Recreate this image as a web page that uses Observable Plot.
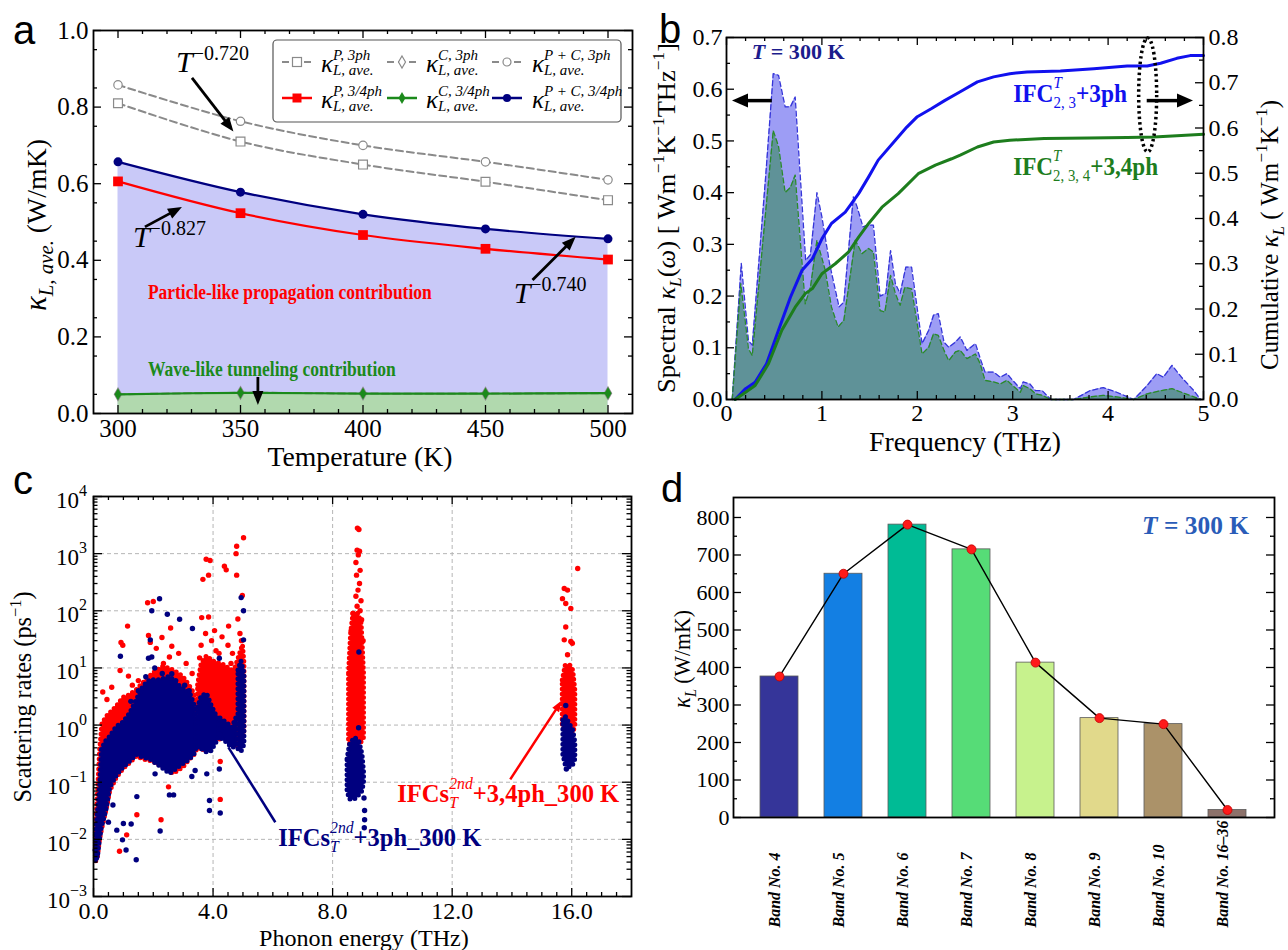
<!DOCTYPE html>
<html><head><meta charset="utf-8">
<script src="https://cdn.jsdelivr.net/npm/d3@7"></script>
<script src="https://cdn.jsdelivr.net/npm/@observablehq/plot@0.6"></script>
<style>
body{margin:0;background:#fff;}
#fig{position:relative;width:1288px;height:950px;overflow:hidden;background:#fff;}
#fig > svg{position:absolute;}
</style></head><body><div id="fig"></div>
<script>
// ================= DATA =================
// Panel a
const tempK = [300, 350, 400, 450, 500];
const kP3   = [0.810, 0.710, 0.650, 0.605, 0.557];
const kC3   = [0.050, 0.054, 0.052, 0.052, 0.053];
const kPC3  = [0.858, 0.763, 0.700, 0.657, 0.610];
const kP34  = [0.606, 0.523, 0.466, 0.430, 0.402];
const kC34  = [0.050, 0.054, 0.052, 0.052, 0.053];
const kPC34 = [0.657, 0.578, 0.520, 0.482, 0.456];
const legendLabelsA = ["P, 3ph", "C, 3ph", "P + C, 3ph", "P, 3/4ph", "C, 3/4ph", "P + C, 3/4ph"];
const expLabelsA = [{x: 323.9, y: 0.890, e: "−0.720"}, {x: 306.3, y: 0.433, e: "−0.827"}, {x: 461.7, y: 0.287, e: "−0.740"}];
const arrowsA = [
  {x1: 330.4, y1: 0.875, x2: 347.3, y2: 0.735},
  {x1: 311.2, y1: 0.486, x2: 326.3, y2: 0.538},
  {x1: 469.4, y1: 0.347, x2: 487.0, y2: 0.460},
  {x1: 357.3, y1: 0.094, x2: 357.3, y2: 0.021}
];
const ticksAX = [300, 350, 400, 450, 500];
const ticksAY = [0, 0.2, 0.4, 0.6, 0.8, 1.0];

// Panel b  [frequency THz, value]
const spec3ph = [[0.06,0],[0.155,0.263],[0.23,0.114],[0.27,0.105],[0.41,0.43],[0.49,0.63],[0.545,0.627],[0.615,0.566],[0.67,0.566],[0.72,0.585],[0.83,0.269],[0.88,0.28],[0.948,0.40],[1.0,0.353],[1.08,0.263],[1.18,0.179],[1.23,0.188],[1.33,0.392],[1.37,0.372],[1.43,0.334],[1.48,0.337],[1.54,0.337],[1.61,0.20],[1.67,0.205],[1.72,0.288],[1.77,0.224],[1.82,0.205],[1.88,0.256],[1.94,0.256],[2.05,0.108],[2.12,0.134],[2.17,0.163],[2.22,0.166],[2.28,0.111],[2.33,0.101],[2.40,0.111],[2.45,0.121],[2.52,0.095],[2.61,0.108],[2.66,0.079],[2.71,0.053],[2.80,0.053],[2.87,0.043],[2.94,0.050],[3.00,0.037],[3.08,0.021],[3.11,0.034],[3.18,0.030],[3.24,0.017],[3.31,0.017],[3.40,0],[3.64,0],[3.81,0.017],[3.95,0.023],[4.09,0.014],[4.27,0],[4.41,0.027],[4.51,0.050],[4.58,0.043],[4.67,0.066],[4.77,0.043],[4.90,0.017],[4.97,0]];
const spec34ph = [[0.06,0],[0.15,0.224],[0.23,0.098],[0.27,0.085],[0.49,0.52],[0.545,0.49],[0.615,0.40],[0.67,0.41],[0.72,0.434],[0.825,0.185],[0.88,0.217],[0.948,0.308],[1.035,0.25],[1.10,0.179],[1.17,0.14],[1.23,0.153],[1.35,0.308],[1.42,0.282],[1.49,0.292],[1.54,0.285],[1.61,0.172],[1.66,0.169],[1.72,0.24],[1.77,0.205],[1.82,0.182],[1.87,0.217],[1.94,0.214],[2.05,0.088],[2.12,0.101],[2.17,0.127],[2.22,0.124],[2.28,0.095],[2.33,0.075],[2.40,0.092],[2.45,0.095],[2.52,0.079],[2.61,0.088],[2.66,0.069],[2.71,0.037],[2.80,0.034],[2.87,0.030],[2.94,0.037],[3.00,0.027],[3.08,0.014],[3.11,0.027],[3.18,0.021],[3.24,0.011],[3.31,0.008],[3.40,0],[3.64,0],[3.81,0.005],[3.95,0.008],[4.09,0.005],[4.27,0],[4.41,0.011],[4.55,0.017],[4.67,0.021],[4.77,0.014],[4.97,0]];
const cum3ph = [[0.09,0],[0.2,0.024],[0.3,0.038],[0.42,0.079],[0.545,0.153],[0.67,0.226],[0.79,0.285],[0.9,0.311],[1.0,0.355],[1.1,0.389],[1.245,0.414],[1.385,0.455],[1.49,0.492],[1.59,0.529],[1.77,0.573],[1.89,0.602],[2.0,0.625],[2.15,0.643],[2.29,0.661],[2.45,0.68],[2.63,0.702],[2.8,0.713],[2.97,0.72],[3.15,0.724],[3.5,0.726],[3.85,0.731],[4.2,0.737],[4.41,0.737],[4.55,0.743],[4.72,0.754],[4.86,0.76],[5.0,0.76]];
const cum34ph = [[0.09,0],[0.2,0.016],[0.3,0.031],[0.44,0.079],[0.58,0.153],[0.72,0.204],[0.825,0.234],[0.9,0.245],[1.0,0.278],[1.14,0.3],[1.28,0.326],[1.385,0.359],[1.49,0.389],[1.63,0.425],[1.8,0.455],[2.01,0.499],[2.19,0.518],[2.36,0.532],[2.45,0.54],[2.63,0.558],[2.8,0.569],[2.97,0.573],[3.33,0.577],[3.8,0.578],[4.2,0.579],[4.48,0.58],[4.72,0.583],[5.0,0.586]];
const ticksBX = [0, 1, 2, 3, 4, 5];
const ticksBL = [0, 0.1, 0.2, 0.3, 0.4, 0.5, 0.6, 0.7];
const ticksBR = [0, 0.1, 0.2, 0.3, 0.4, 0.5, 0.6, 0.7, 0.8];

// Panel c  dense cores [segment, THz, low, high] and single points [THz, rate]
const redCore = [
 [1,0.08,0.004,0.015],[1,0.15,0.005,0.06],[1,0.22,0.01,0.35],[1,0.3,0.016,1.05],[1,0.45,0.035,1.4],[1,0.56,0.07,1.6],[1,0.78,0.12,2.1],[1,1.0,0.17,3.0],[1,1.2,0.21,3.3],[1,1.45,0.28,4.1],[1,1.67,0.25,5.4],[1,2.0,0.23,8],[1,2.34,0.18,10.5],[1,2.68,0.14,9],[1,3.0,0.18,7],[1,3.2,0.24,5],[1,3.38,0.3,3.5],[1,3.45,0.35,1.5],
 [2,3.5,0.45,5],[2,3.62,0.35,12],[2,3.8,0.4,16],[2,4.0,0.5,13],[2,4.2,0.55,12],[2,4.4,0.6,11],[2,4.6,0.55,9],[2,4.75,0.45,10],[2,4.88,0.4,16],[2,5.0,0.55,25],[2,5.05,0.8,12],
 [3,8.55,0.5,8],[3,8.62,0.42,40],[3,8.7,0.4,90],[3,8.85,0.45,90],[3,8.97,0.5,60],[3,9.05,0.6,8],
 [4,15.7,1.0,6],[4,15.8,0.7,11],[4,15.95,0.6,11],[4,16.05,0.7,9],[4,16.12,1.0,4]
];
const blueCore = [
 [1,0.08,0.004,0.012],[1,0.15,0.005,0.03],[1,0.22,0.01,0.08],[1,0.28,0.016,0.37],[1,0.45,0.035,0.55],[1,0.56,0.08,0.62],[1,0.78,0.13,0.93],[1,1.0,0.18,1.1],[1,1.23,0.23,1.6],[1,1.45,0.3,2.75],[1,1.67,0.27,4.7],[1,1.9,0.25,6.1],[1,2.23,0.19,6.1],[1,2.56,0.14,7],[1,2.9,0.19,4.7],[1,3.23,0.25,3.6],[1,3.4,0.32,2.1],[1,3.44,0.4,1.0],
 [2,3.5,0.4,2.0],[2,3.62,0.38,3.2],[2,3.8,0.33,3.5],[2,3.95,0.35,2.2],[2,4.1,0.48,1.5],[2,4.2,0.6,1.2],
 [3,4.25,0.6,1.3],[3,4.45,0.5,1.1],[3,4.65,0.4,0.9],[3,4.8,0.42,1.4],
 [4,4.85,0.38,9],[4,4.95,0.34,13],[4,5.05,0.45,8],
 [5,8.5,0.07,0.25],[5,8.58,0.05,0.45],[5,8.75,0.05,0.6],[5,8.9,0.06,0.5],[5,9.0,0.07,0.3],[5,9.05,0.1,0.15],
 [6,15.72,0.3,1.2],[6,15.8,0.2,1.4],[6,15.95,0.18,1.0],[6,16.05,0.2,0.8],[6,16.12,0.25,0.5]
];
const redPts = [
 [5.02,1900],[4.79,1350],[4.77,1000],[4.79,420],[4.38,600],[4.44,520],[3.77,800],[3.9,760],[3.66,355],[3.85,420],
 [4.98,185],[3.62,76],[3.85,78],[4.83,72],[4.52,54],[1.81,138],[2.0,145],[1.14,54],[0.98,25],[0.92,28],[0.89,9],[1.17,7.2],
 [0.61,4.6],[0.31,3.8],[0.45,2.8],[1.84,37],[2.29,34],[2.62,24],[2.54,15.5],[2.34,12],[2.58,50],[2.1,22],[1.9,28],[2.85,18],[3.1,12],[3.3,8],[1.5,6],[1.3,5],
 [2.26,0.022],[1.45,0.027],[0.87,0.0062],[1.11,0.012],[4.24,0.23],[4.24,0.05],[3.59,0.4],[2.51,0.083],[3.18,0.34],
 [3.6,25],[3.75,40],[3.95,30],[4.1,20],[4.3,35],[4.5,25],[4.65,18],[4.9,40],[4.95,30],[3.55,15],[4.2,18],[4.05,45],[4.6,12],
 [8.83,2800],[8.88,2650],[8.82,1150],[8.9,1100],[8.86,950],[8.78,700],[8.92,510],[8.8,420],[8.9,300],[8.85,230],[8.78,180],[8.95,150],[8.82,120],[8.92,100],[8.68,90],[8.97,70],[8.62,45],[9.02,30],
 [16.2,550],[15.75,245],[15.86,230],[15.69,163],[15.8,134],[15.97,110],[15.8,52],[15.75,31],[15.97,29],[16.02,27],[15.86,17]
];
const bluePts = [
 [2.21,162],[1.95,100],[2.47,87],[2.88,71],[3.31,49],[4.94,170],[5.02,100],[0.9,16],[1.9,31],[1.95,15.5],[1.84,14.8],[2.62,7.9],[4.21,14.8],[5.02,31],
 [1.5,4],[1.75,7],[2.05,10],[2.3,8],[2.75,6],[3.05,5],[3.2,4],[1.25,2.6],
 [0.78,0.0145],[0.97,0.0098],[1.09,0.0065],[1.43,0.0044],[1.0,0.019],[1.26,0.0186],[2.23,0.014],[1.45,0.056],[2.06,0.14],[2.54,0.06],[2.68,0.06],[3.29,0.126],[3.4,0.16],[3.79,0.14],[3.88,0.048],[3.88,0.032],[4.24,0.029],[4.21,0.17],[0.11,0.005],[0.06,0.0065],[0.5,0.02],[0.65,0.04],
 [8.88,19],[8.87,0.9],[9.05,0.053],[9.07,0.032],[9.07,0.022],[9.06,0.016],
 [15.8,2.2],[15.82,0.17]
];
const ticksCX = [0, 4, 8, 12, 16];
const ticksCYexp = [-3, -2, -1, 0, 1, 2, 3, 4];

// Panel d
const bands = ["Band No. 4", "Band No. 5", "Band No. 6", "Band No. 7", "Band No. 8", "Band No. 9", "Band No. 10", "Band No. 16–36"];
const bandK = [376, 650, 781, 715, 413, 265, 249, 20];
const bandColors = ["#353599", "#137fe3", "#00bb95", "#56dc77", "#c7f28d", "#e1d98b", "#ab9269", "#8d726b"];
const ticksDY = [0, 100, 200, 300, 400, 500, 600, 700, 800];

// ================= HELPERS =================
const SERIF = '"Liberation Serif", "Times New Roman", serif';
const SANS = '"Liberation Sans", Arial, sans-serif';
const TXT = {fontFamily: SERIF, fill: "black"};
const cv = document.createElement("canvas").getContext("2d");
function tw(t, fs, it, b) { cv.font = `${it ? "italic " : ""}${b ? "bold " : ""}${fs}px "Liberation Serif"`; return cv.measureText(t).width; }
function rich(g, X, Y, segs, o = {}) {
  const S = o.size || 20, bold = !!o.bold, fill = o.fill || "black";
  let cx = 0, prev = 0; const out = [];
  for (const s of segs) {
    const small = s.sup || s.sub;
    const fs = s.fs || (small ? Math.round(S * 0.66) : S);
    const b = s.b !== undefined ? !!s.b : bold;
    const w = tw(s.t, fs, !!s.it, b);
    const x0 = s.stack ? prev : cx;
    const dy = s.dy !== undefined ? s.dy : s.sup ? -0.42 * S : s.sub ? 0.25 * S : 0;
    out.push({t: s.t, x: x0, dy, fs, it: !!s.it, b, fill: s.fill || fill});
    prev = x0;
    cx = s.stack ? Math.max(cx, x0 + w) : x0 + w;
  }
  const off = o.anchor === "middle" ? -cx / 2 : o.anchor === "end" ? -cx : 0;
  const sx = o.width ? o.width / cx : 1;
  const gg = g.append("g").attr("text-anchor", "start").attr("transform", `translate(${X},${Y})${o.rotate ? ` rotate(${o.rotate})` : ""}${sx !== 1 ? ` scale(${sx},1)` : ""}`);
  for (const s of out) gg.append("text").attr("x", s.x + off).attr("y", s.dy).attr("text-anchor", "start")
    .attr("font-family", o.family || SERIF).attr("font-size", s.fs)
    .attr("font-style", s.it ? "italic" : "normal").attr("font-weight", s.b ? "bold" : "normal")
    .attr("fill", s.fill).style("white-space", "pre").text(s.t);
  return gg;
}
function arrow(g, x1, y1, x2, y2, o = {}) {
  const color = o.color || "black", w = o.width || 2.5, hl = o.hl ?? 13, hw = o.hw ?? 10;
  const a = Math.atan2(y2 - y1, x2 - x1), c = Math.cos(a), s = Math.sin(a);
  const bx = x2 - hl * c, by = y2 - hl * s;
  g.append("line").attr("x1", x1).attr("y1", y1).attr("x2", hl ? bx + c : x2).attr("y2", hl ? by + s : y2)
    .attr("stroke", color).attr("stroke-width", w);
  if (hl) g.append("path").attr("d", `M${x2},${y2}L${bx - hw / 2 * s},${by + hw / 2 * c}L${bx + hw / 2 * s},${by - hw / 2 * c}Z`).attr("fill", color);
}
const layer = draw => (index, scales, values, dims) => { const g = d3.create("svg:g"); draw(g, scales, dims); return g.node(); };
const TK = {stroke: "black", strokeWidth: 1.3};
const tB = (v, len, fh) => Plot.ruleX(v, {x: d => d, insetTop: fh - len, ...TK});
const tT = (v, len, fh) => Plot.ruleX(v, {x: d => d, insetBottom: fh - len, ...TK});
const tL = (v, len, fw, f = d => d) => Plot.ruleY(v, {y: f, insetRight: fw - len, ...TK});
const tR = (v, len, fw, f = d => d) => Plot.ruleY(v, {y: f, insetLeft: fw - len, ...TK});
const STYLE = {background: "transparent", fontFamily: SERIF, overflow: "visible", color: "black"};
const fig = document.getElementById("fig");
function place(el, left, top) { el.style.position = "absolute"; el.style.left = left + "px"; el.style.top = top + "px"; el.style.maxWidth = "none"; fig.appendChild(el); }

// ================= PANEL A =================
{
  const rows = tempK.map((t, i) => ({t, p3: kP3[i], c3: kC3[i], pc3: kPC3[i], p34: kP34[i], c34: kC34[i], pc34: kPC34[i]}));
  const fw = 539, fh = 383, cr = "catmull-rom";
  const gray = {stroke: "#8a8a8a", strokeWidth: 2, strokeDasharray: "7,4", curve: cr};
  const xMin = d3.range(300, 510, 10).filter(v => v % 50);
  const yMin = d3.range(0.05, 1, 0.1);
  const el = Plot.plot({
    width: 640, height: 475, marginTop: 30, marginRight: 8, marginBottom: 62, marginLeft: 93,
    style: STYLE, x: {domain: [290, 510], axis: null}, y: {domain: [0, 1], axis: null},
    marks: [
      Plot.areaY(rows, {x: "t", y1: 0, y2: "pc34", fill: "#c9c9f8", curve: cr}),
      Plot.areaY(rows, {x: "t", y1: 0, y2: "c34", fill: "#b1d9ae", curve: cr}),
      Plot.line(rows, {x: "t", y: "c3", ...gray}),
      Plot.dot(rows, {x: "t", y: "c3", symbol: "diamond", r: 3.6, stroke: "#8a8a8a", fill: "white"}),
      Plot.line(rows, {x: "t", y: "p3", ...gray}),
      Plot.line(rows, {x: "t", y: "pc3", ...gray}),
      Plot.dot(rows, {x: "t", y: "p3", symbol: "square", r: 5, stroke: "#8a8a8a", fill: "white", strokeWidth: 1.2}),
      Plot.dot(rows, {x: "t", y: "pc3", r: 4.2, stroke: "#8a8a8a", fill: "white", strokeWidth: 1.2}),
      Plot.line(rows, {x: "t", y: "p34", stroke: "#ff0000", strokeWidth: 2.2, curve: cr}),
      Plot.dot(rows, {x: "t", y: "p34", symbol: "square", r: 5.5, fill: "#ff0000"}),
      Plot.line(rows, {x: "t", y: "pc34", stroke: "#00007f", strokeWidth: 2.2, curve: cr}),
      Plot.dot(rows, {x: "t", y: "pc34", r: 4.5, fill: "#00007f"}),
      Plot.line(rows, {x: "t", y: "c34", stroke: "#1b8a1b", strokeWidth: 2.2, curve: cr}),
      Plot.dot(rows, {x: "t", y: "c34", symbol: "diamond", r: 3.6, fill: "#1b8a1b"}),
      layer((g, s) => {
        for (const e of expLabelsA) rich(g, s.x(e.x), s.y(e.y), [{t: "T", it: 1}, {t: e.e, fs: 20, dy: -12}], {size: 30});
        for (const a of arrowsA) arrow(g, s.x(a.x1), s.y(a.y1), s.x(a.x2), s.y(a.y2), {width: 2.8, hl: 14, hw: 11});
        rich(g, s.x(312.4), s.y(0.298), [{t: "Particle-like propagation contribution"}], {size: 20, bold: true, fill: "#ff0000", width: 284});
        rich(g, s.x(312.4), s.y(0.0966), [{t: "Wave-like tunneling contribution"}], {size: 20, bold: true, fill: "#1b8a1b", width: 248});
        // legend
        g.append("rect").attr("x", 273).attr("y", 40).attr("width", 348).attr("height", 82).attr("rx", 4)
          .attr("fill", "white").attr("stroke", "#555").attr("stroke-width", 1.2);
        const sty = [
          {stroke: "#8a8a8a", dash: "7,4", sym: "square", fill: "white"},
          {stroke: "#8a8a8a", dash: "7,4", sym: "diamond", fill: "white"},
          {stroke: "#8a8a8a", dash: "7,4", sym: "circle", fill: "white"},
          {stroke: "#ff0000", dash: null, sym: "square", fill: "#ff0000"},
          {stroke: "#1b8a1b", dash: null, sym: "diamond", fill: "#1b8a1b"},
          {stroke: "#00007f", dash: null, sym: "circle", fill: "#00007f"}
        ];
        legendLabelsA.forEach((lab, i) => {
          const col = i % 3, row = Math.floor(i / 3), st = sty[i];
          const lx = [282, 387, 492][col], ly = [62, 98][row];
          const ln = g.append("line").attr("x1", lx).attr("x2", lx + 30).attr("y1", ly).attr("y2", ly)
            .attr("stroke", st.stroke).attr("stroke-width", st.dash ? 2 : 2.5);
          if (st.dash) ln.attr("stroke-dasharray", st.dash);
          const mx = lx + 15, sw = st.fill === "white" ? 1.2 : 0;
          if (st.sym === "square") g.append("rect").attr("x", mx - 4.5).attr("y", ly - 4.5).attr("width", 9).attr("height", 9).attr("fill", st.fill).attr("stroke", st.stroke).attr("stroke-width", sw);
          if (st.sym === "circle") g.append("circle").attr("cx", mx).attr("cy", ly).attr("r", 4).attr("fill", st.fill).attr("stroke", st.stroke).attr("stroke-width", sw);
          if (st.sym === "diamond") g.append("path").attr("d", `M${mx},${ly - 6}L${mx + 3.5},${ly}L${mx},${ly + 6}L${mx - 3.5},${ly}Z`).attr("fill", st.fill).attr("stroke", st.stroke).attr("stroke-width", sw);
          const bx = [321, 426, 532][col], by = [72, 108][row];
          rich(g, bx, by, [{t: "κ", it: 1}, {t: lab, it: 1, fs: 15, dy: -12}, {t: "L, ave.", it: 1, fs: 15, dy: 3, stack: 1}], {size: 25});
        });
        // axis titles & letter
        rich(g, 46, 225, [{t: "κ", it: 1, fs: 31}, {t: "L, ave.", it: 1, fs: 21, dy: 7}, {t: " (W/mK)", fs: 28}], {rotate: -90, anchor: "middle", width: 172});
        rich(g, 360, 466, [{t: "Temperature (K)"}], {size: 27, anchor: "middle", width: 185});
        rich(g, 13, 44, [{t: "a"}], {size: 40, family: SANS});
      }),
      Plot.text(ticksAX, {x: d => d, text: d => String(d), frameAnchor: "bottom", dy: 6, lineAnchor: "top", fontSize: 25, ...TXT}),
      Plot.text(ticksAY, {y: d => d, text: d => d.toFixed(1), frameAnchor: "left", dx: -5, textAnchor: "end", fontSize: 25, ...TXT}),
      tB(ticksAX, 8, fh), tT(ticksAX, 8, fh), tB(xMin, 4, fh), tT(xMin, 4, fh),
      tL(ticksAY, 8, fw), tR(ticksAY, 8, fw), tL(yMin, 4, fw), tR(yMin, 4, fw),
      Plot.frame({stroke: "black", strokeWidth: 1.8})
    ]
  });
  place(el, 0, 0);
}

// ================= PANEL B =================
{
  const RS = 0.7 / 0.8, fw = 477, fh = 362;
  const xMin = d3.range(0.2, 5, 0.2).filter(v => Math.abs(v - Math.round(v)) > 0.01);
  const yMinL = d3.range(0.05, 0.7, 0.1);
  const yMinR = d3.range(0.05, 0.8, 0.1);
  const el = Plot.plot({
    width: 648, height: 460, marginTop: 37, marginRight: 85, marginBottom: 61, marginLeft: 86,
    style: STYLE, x: {domain: [0, 5], axis: null}, y: {domain: [0, 0.7], axis: null},
    marks: [
      Plot.areaY(spec3ph, {x: d => d[0], y: d => d[1], fill: "#9d9df5"}),
      Plot.areaY(spec34ph, {x: d => d[0], y: d => d[1], fill: "#5f9298"}),
      Plot.line(spec3ph, {x: d => d[0], y: d => d[1], stroke: "#3535d8", strokeWidth: 1.3, strokeDasharray: "5,3"}),
      Plot.line(spec34ph, {x: d => d[0], y: d => d[1], stroke: "#2a8a2a", strokeWidth: 1.3, strokeDasharray: "5,3"}),
      Plot.line(cum3ph, {x: d => d[0], y: d => d[1] * RS, stroke: "#1111ee", strokeWidth: 3}),
      Plot.line(cum34ph, {x: d => d[0], y: d => d[1] * RS, stroke: "#1d7d1d", strokeWidth: 3}),
      layer((g, s) => {
        rich(g, s.x(0.27), s.y(0.657), [{t: "T", it: 1}, {t: " = 300 K"}], {size: 22, bold: true, fill: "#1c1c8c", width: 93});
        arrow(g, s.x(0.48), s.y(0.577), s.x(0.063), s.y(0.577), {width: 3.5, hl: 16, hw: 14});
        arrow(g, s.x(4.41), s.y(0.577), s.x(4.895), s.y(0.577), {width: 3.5, hl: 16, hw: 14});
        g.append("ellipse").attr("cx", s.x(4.42)).attr("cy", s.y(0.588)).attr("rx", 9).attr("ry", 57)
          .attr("fill", "none").attr("stroke", "black").attr("stroke-width", 3.5).attr("stroke-dasharray", "2.5,3");
        rich(g, s.x(3.01), s.y(0.574), [{t: "IFC"}, {t: "T", it: 1, b: 0, fs: 16, dy: -14}, {t: "2, 3", b: 0, fs: 16, dy: 6, stack: 1}, {t: "+3ph"}], {size: 25, bold: true, fill: "#1111ee", width: 114});
        rich(g, s.x(3.01), s.y(0.433), [{t: "IFC"}, {t: "T", it: 1, b: 0, fs: 16, dy: -14}, {t: "2, 3, 4", b: 0, fs: 16, dy: 6, stack: 1}, {t: "+3,4ph"}], {size: 25, bold: true, fill: "#1d7d1d", width: 145});
        rich(g, 35, 218, [{t: "Spectral "}, {t: "κ", it: 1}, {t: "L", it: 1, fs: 17, dy: 6}, {t: "("}, {t: "ω", it: 1}, {t: ")"}, {t: " [ Wm"}, {t: "−1", fs: 17, dy: -11}, {t: "K"}, {t: "−1", fs: 17, dy: -11}, {t: "THz"}, {t: "−1", fs: 17, dy: -11}, {t: "]"}], {size: 26, rotate: -90, anchor: "middle", width: 350});
        rich(g, 638, 235, [{t: "Cumulative "}, {t: "κ", it: 1}, {t: "L", it: 1, fs: 17, dy: 6}, {t: " ( Wm"}, {t: "−1", fs: 17, dy: -11}, {t: "K"}, {t: "−1", fs: 17, dy: -11}, {t: ")"}], {size: 25, rotate: -90, anchor: "middle", width: 270});
        rich(g, 325, 451, [{t: "Frequency (THz)"}], {size: 27, anchor: "middle", width: 192});
        rich(g, 19, 43, [{t: "b"}], {size: 40, family: SANS});
      }),
      Plot.text(ticksBX, {x: d => d, text: d => String(d), frameAnchor: "bottom", dy: 4, lineAnchor: "top", fontSize: 24, ...TXT}),
      Plot.text(ticksBL, {y: d => d, text: d => d.toFixed(1), frameAnchor: "left", dx: -4, textAnchor: "end", fontSize: 24, ...TXT}),
      Plot.text(ticksBR, {y: d => d * RS, text: d => d.toFixed(1), frameAnchor: "right", dx: 5, textAnchor: "start", fontSize: 24, ...TXT}),
      tB(ticksBX, 8, fh), tT(ticksBX, 8, fh), tB(xMin, 4, fh), tT(xMin, 4, fh),
      tL(ticksBL, 8, fw), tL(yMinL, 4, fw),
      tR(ticksBR, 8, fw, d => d * RS), tR(yMinR, 4, fw, d => d * RS),
      Plot.frame({stroke: "black", strokeWidth: 1.8})
    ]
  });
  place(el, 640, 0);
}

// ================= PANEL C =================
{
  const fw = 538, fh = 400, RED = "#ff0000", NAVY = "#00007f";
  const xMin = d3.range(0.5, 18, 0.5).filter(v => v % 4);
  const decades = ticksCYexp.map(n => 10 ** n);
  const yMin = [];
  for (const n of ticksCYexp.slice(0, -1)) for (let m = 2; m <= 9; m++) yMin.push(m * 10 ** n);
  const core = {x: d => d[1], y1: d => d[2], y2: d => d[3], z: d => d[0], strokeWidth: 5, strokeDasharray: "0,5", strokeLinecap: "round"};
  const el = Plot.plot({
    width: 640, height: 490, marginTop: 36, marginRight: 9, marginBottom: 54, marginLeft: 93,
    style: STYLE, x: {domain: [0, 18], axis: null}, y: {type: "log", domain: [1e-3, 1e4], axis: null},
    marks: [
      Plot.ruleX(ticksCX.slice(1), {x: d => d, stroke: "#b5b5b5", strokeDasharray: "4,3", strokeWidth: 1}),
      Plot.ruleY(decades.slice(1, -1), {y: d => d, stroke: "#b5b5b5", strokeDasharray: "4,3", strokeWidth: 1}),
      Plot.areaY(redCore, {...core, fill: RED, stroke: RED}),
      Plot.dot(redPts, {x: d => d[0], y: d => d[1], r: 2.7, fill: RED}),
      Plot.areaY(blueCore, {...core, fill: NAVY, stroke: NAVY}),
      Plot.dot(bluePts, {x: d => d[0], y: d => d[1], r: 2.7, fill: NAVY}),
      layer((g, s) => {
        arrow(g, s.x(4.53), s.y(0.4), s.x(6.1), s.y(0.0195), {color: NAVY, width: 2.5, hl: 0});
        arrow(g, s.x(13.96), s.y(0.11), s.x(15.7), s.y(2.7), {color: RED, width: 2.5, hl: 12, hw: 8});
        rich(g, s.x(6.2), s.y(0.0074), [{t: "IFCs"}, {t: "2nd", it: 1, b: 0, fs: 16, dy: -13}, {t: "T", it: 1, b: 0, fs: 16, dy: 6, stack: 1}, {t: "+3ph_300 K"}], {size: 25, bold: true, fill: NAVY, width: 203});
        rich(g, s.x(10.18), s.y(0.045), [{t: "IFCs"}, {t: "2nd", it: 1, b: 0, fs: 16, dy: -13}, {t: "T", it: 1, b: 0, fs: 16, dy: 6, stack: 1}, {t: "+3,4ph_300 K"}], {size: 25, bold: true, fill: RED, width: 222});
        for (const n of ticksCYexp) rich(g, 87, s.y(10 ** n) + 12, [{t: "10"}, {t: n < 0 ? "−" + (-n) : String(n), fs: 16, dy: -12}], {size: 23, anchor: "end"});
        rich(g, 31, 237, [{t: "Scattering rates (ps"}, {t: "−1", fs: 17, dy: -10}, {t: ")"}], {size: 25, rotate: -90, anchor: "middle", width: 211});
        rich(g, 364, 486, [{t: "Phonon energy (THz)"}], {size: 24, anchor: "middle", width: 210});
        rich(g, 13, 34, [{t: "c"}], {size: 40, family: SANS});
      }),
      Plot.text(ticksCX, {x: d => d, text: d => d.toFixed(1), frameAnchor: "bottom", dy: 5, lineAnchor: "top", fontSize: 24, ...TXT}),
      tB(ticksCX, 8, fh), tT(ticksCX, 8, fh), tB(xMin, 4, fh), tT(xMin, 4, fh),
      tL(decades, 9, fw), tR(decades, 9, fw), tL(yMin, 4.5, fw), tR(yMin, 4.5, fw),
      Plot.frame({stroke: "black", strokeWidth: 1.8})
    ]
  });
  place(el, 0, 460);
}

// ================= PANEL D =================
{
  const fw = 541, fh = 320;
  const rows = bands.map((b, i) => ({b, k: bandK[i], c: bandColors[i]}));
  const yMin = d3.range(50, 850, 100);
  const el = Plot.plot({
    width: 648, height: 490, marginTop: 37, marginRight: 14, marginBottom: 133, marginLeft: 93,
    style: STYLE,
    x: {type: "band", domain: bands, paddingInner: 0.4, paddingOuter: 0.39, axis: null},
    y: {domain: [0, 853.3], axis: null},
    color: {type: "identity"},
    marks: [
      Plot.barY(rows, {x: "b", y: "k", fill: "c", stroke: "#5a5a5a", strokeWidth: 0.8}),
      Plot.line(rows, {x: "b", y: "k", stroke: "black", strokeWidth: 1.4}),
      Plot.dot(rows, {x: "b", y: "k", r: 4.5, fill: "#ff1a1a", stroke: "#c00000", strokeWidth: 0.8}),
      Plot.text(bands, {x: d => d, text: d => d, frameAnchor: "bottom", dy: 110, rotate: -90, textAnchor: "start", fontSize: 16, fontWeight: "bold", fontStyle: "italic", ...TXT}),
      Plot.text(ticksDY, {y: d => d, text: d => String(d), frameAnchor: "left", dx: -4, textAnchor: "end", fontSize: 22, ...TXT}),
      tL(ticksDY, 8, fw), tR(ticksDY, 8, fw), tL(yMin, 4, fw), tR(yMin, 4, fw),
      layer((g, s) => {
        rich(g, 502, 74, [{t: "T", it: 1}, {t: " = 300 K"}], {size: 26, bold: true, fill: "#2a5cb8", width: 107});
        rich(g, 50, 199, [{t: "κ", it: 1, fs: 25}, {t: "L", it: 1, fs: 16, dy: 6}, {t: " (W/mK)", fs: 24}], {rotate: -90, anchor: "middle", width: 98});
        rich(g, 21, 42, [{t: "d"}], {size: 40, family: SANS});
      }),
      Plot.frame({stroke: "black", strokeWidth: 1.8})
    ]
  });
  place(el, 640, 460);
}
</script></body></html>
